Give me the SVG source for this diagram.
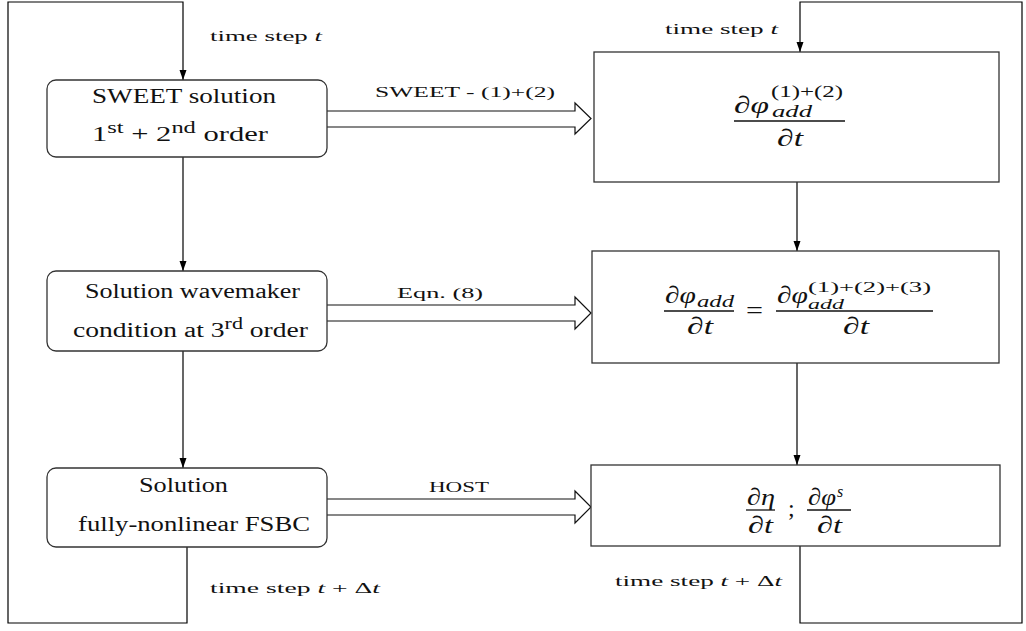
<svg xmlns="http://www.w3.org/2000/svg" width="1026" height="631" viewBox="0 0 1026 631">
<defs>
<marker id="ah" viewBox="0 0 10 10" refX="10" refY="5" markerWidth="10" markerHeight="10" markerUnits="userSpaceOnUse" orient="auto">
<path d="M0,1.5 L10,5 L0,8.5 Z" fill="#000"/>
</marker>
</defs>
<style>
.ln{fill:none;stroke:#000;stroke-width:1.2}
.box{fill:#fff;stroke:#333;stroke-width:1.3}
.t{font-family:"Liberation Serif","Times New Roman",serif;fill:#111}
.lbl{font-size:15px}
.nd{font-size:20px}
.m{font-family:"Liberation Serif","Times New Roman",serif;font-size:24px;fill:#111}
.mi{font-style:italic}
.sup{font-size:16px}
.sm{font-size:14px}
.bar{stroke:#111;stroke-width:1.3}
.dbl{fill:#fff;stroke:#111;stroke-width:1.2}
</style>
<rect width="1026" height="631" fill="#fff"/>
<g id="connectors">
<polyline class="ln" points="187,547 187,623 8,623 8,2 183,2 183,80" marker-end="url(#ah)"/>
<polyline class="ln" points="800,546 800,623 1022,623 1022,2 800,2 800,52" marker-end="url(#ah)"/>
<line class="ln" x1="183" y1="157" x2="183" y2="271" marker-end="url(#ah)"/>
<line class="ln" x1="183" y1="351" x2="183" y2="468" marker-end="url(#ah)"/>
<line class="ln" x1="797" y1="182" x2="797" y2="251" marker-end="url(#ah)"/>
<line class="ln" x1="797" y1="363" x2="797" y2="465" marker-end="url(#ah)"/>
<g id="arr1">
<path class="dbl" d="M327,111 L575,111 L575,103 L591,118.5 L575,134 L575,127 L327,127"/>
<text class="t lbl" x="375" y="97" textLength="180" lengthAdjust="spacingAndGlyphs">SWEET - (1)+(2)</text>
</g>
<g id="arr2">
<path class="dbl" d="M327,305 L575,305 L575,297 L591,313 L575,329 L575,321 L327,321"/>
<text class="t lbl" x="397" y="298" textLength="86" lengthAdjust="spacingAndGlyphs">Eqn. (8)</text>
</g>
<g id="arr3">
<path class="dbl" d="M327,499 L575,499 L575,491 L591,507 L575,523 L575,515 L327,515"/>
<text class="t lbl" x="429" y="492" textLength="60" lengthAdjust="spacingAndGlyphs">HOST</text>
</g>
<text class="t lbl" x="210" y="41" textLength="112" lengthAdjust="spacingAndGlyphs">time step <tspan font-style="italic">t</tspan></text>
<text class="t lbl" x="665" y="34" textLength="113" lengthAdjust="spacingAndGlyphs">time step <tspan font-style="italic">t</tspan></text>
<text class="t lbl" x="210" y="593" textLength="170" lengthAdjust="spacingAndGlyphs">time step <tspan font-style="italic">t</tspan> + Δ<tspan font-style="italic">t</tspan></text>
<text class="t lbl" x="615" y="586" textLength="167" lengthAdjust="spacingAndGlyphs">time step <tspan font-style="italic">t</tspan> + Δ<tspan font-style="italic">t</tspan></text>
</g>
<g id="node-sweet">
<rect class="box" x="47" y="80" width="280" height="77" rx="9"/>
<text class="t nd" x="92" y="103" textLength="184" lengthAdjust="spacingAndGlyphs">SWEET solution</text>
<text class="t nd" x="92" y="141" textLength="176" lengthAdjust="spacingAndGlyphs">1<tspan class="sup" dy="-8">st</tspan><tspan dy="8"> + 2</tspan><tspan class="sup" dy="-8">nd</tspan><tspan dy="8"> order</tspan></text>
</g>
<g id="node-wavemaker">
<rect class="box" x="47" y="271" width="280" height="80" rx="9"/>
<text class="t nd" x="85" y="298" textLength="215" lengthAdjust="spacingAndGlyphs">Solution wavemaker</text>
<text class="t nd" x="73" y="337" textLength="235" lengthAdjust="spacingAndGlyphs">condition at 3<tspan class="sup" dy="-8">rd</tspan><tspan dy="8"> order</tspan></text>
</g>
<g id="node-fsbc">
<rect class="box" x="47" y="468" width="280" height="79" rx="9"/>
<text class="t nd" x="139" y="492" textLength="89" lengthAdjust="spacingAndGlyphs">Solution</text>
<text class="t nd" x="78" y="531" textLength="232" lengthAdjust="spacingAndGlyphs">fully-nonlinear FSBC</text>
</g>
<g id="node-r1">
<rect class="box" x="594" y="52" width="405" height="130"/>
<text class="m mi" x="734" y="113" textLength="35" lengthAdjust="spacingAndGlyphs">∂φ</text>
<text class="m sup" x="771" y="97" textLength="72" lengthAdjust="spacingAndGlyphs">(1)+(2)</text>
<text class="m sup mi" x="772" y="117" textLength="40" lengthAdjust="spacingAndGlyphs">add</text>
<line class="bar" x1="734" y1="121" x2="845" y2="121"/>
<text class="m mi" x="777" y="146" textLength="26" lengthAdjust="spacingAndGlyphs">∂t</text>
</g>
<g id="node-r2">
<rect class="box" x="592" y="251" width="407" height="112"/>
<text class="m mi" x="665" y="303" textLength="31" lengthAdjust="spacingAndGlyphs">∂φ</text>
<text class="m sup mi" x="697" y="307" textLength="37" lengthAdjust="spacingAndGlyphs">add</text>
<line class="bar" x1="664" y1="311" x2="734" y2="311"/>
<text class="m mi" x="687" y="334" textLength="26" lengthAdjust="spacingAndGlyphs">∂t</text>
<text class="m" x="746" y="318" textLength="17" lengthAdjust="spacingAndGlyphs">=</text>
<text class="m mi" x="777" y="303" textLength="31" lengthAdjust="spacingAndGlyphs">∂φ</text>
<text class="m sm" x="808" y="292" textLength="123" lengthAdjust="spacingAndGlyphs">(1)+(2)+(3)</text>
<text class="m sm mi" x="808" y="309" textLength="36" lengthAdjust="spacingAndGlyphs">add</text>
<line class="bar" x1="776" y1="311" x2="933" y2="311"/>
<text class="m mi" x="843" y="334" textLength="26" lengthAdjust="spacingAndGlyphs">∂t</text>
</g>
<g id="node-r3">
<rect class="box" x="591" y="465" width="409" height="81"/>
<text class="m mi" x="747" y="505" textLength="28" lengthAdjust="spacingAndGlyphs">∂η</text>
<line class="bar" x1="746" y1="510" x2="775" y2="510"/>
<text class="m mi" x="748" y="533" textLength="25" lengthAdjust="spacingAndGlyphs">∂t</text>
<text class="m" x="788" y="516">;</text>
<text class="m mi" x="808" y="505" textLength="28" lengthAdjust="spacingAndGlyphs">∂φ</text>
<text class="m sup mi" x="837" y="497">s</text>
<line class="bar" x1="807" y1="510" x2="851" y2="510"/>
<text class="m mi" x="817" y="533" textLength="25" lengthAdjust="spacingAndGlyphs">∂t</text>
</g>
</svg>
